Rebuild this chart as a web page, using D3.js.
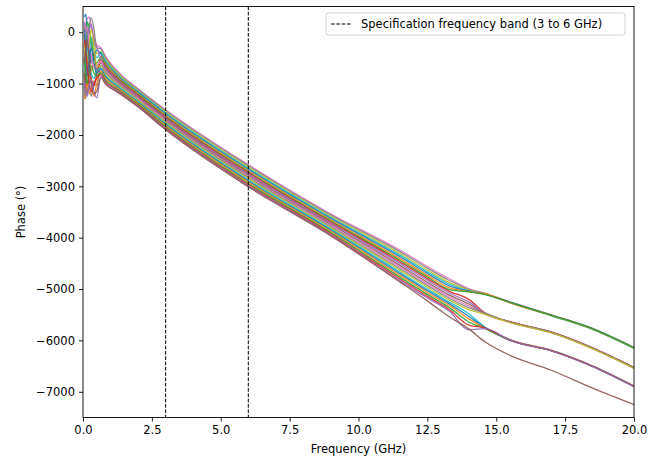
<!DOCTYPE html>
<html>
<head>
<meta charset="utf-8">
<script src="https://cdn.jsdelivr.net/npm/d3@7"></script>
<style>
    body { margin: 0; background: #fff; }
    svg { display: block; font-family: "DejaVu Sans", sans-serif; }
</style>
</head>
<body>
<svg id="chart" width="664" height="457"></svg>
<script>
// frequency points (GHz) shared by every run
var freqs = [0.05, 0.1, 0.15, 0.22, 0.3, 0.4, 0.5, 0.65, 0.8, 1.2, 2, 3, 6, 9, 11.5, 12.5, 13.3, 14, 14.6, 15.5, 17, 18.5, 20];

var runs = [
    [-300, 150, 250, 300, 120, -100, -250, -300, -450, -730, -1100, -1510, -2580, -3540, -4240, -4560, -4800, -4990, -5085, -5250, -5500, -5765, -6135],
    [-900, -500, -200, 100, 280, 50, -300, -330, -478, -751, -1118, -1530, -2600, -3561, -4271, -4592, -4833, -5005, -5092, -5262, -5512, -5778, -6150],
    [100, -250, -600, -400, -350, -150, -420, -380, -511, -776, -1139, -1553, -2627, -3587, -4308, -4630, -4873, -5018, -5100, -5258, -5506, -5772, -6142],
    [-1250, -1000, -800, -500, -100, -350, -500, -400, -538, -797, -1157, -1572, -2649, -3608, -4339, -4662, -4906, -5030, -5096, -5265, -5520, -5785, -6155],
    [300, 350, 50, -300, -600, -450, -350, -420, -566, -818, -1175, -1592, -2670, -3629, -4370, -4694, -4939, -5040, -5104, -5252, -5505, -5768, -6140],
    [-650, -300, -1050, -900, -750, -600, -880, -470, -599, -843, -1197, -1615, -2696, -3655, -4407, -4733, -4978, -5048, -5090, -5268, -5515, -5782, -6148],
    [-50, -400, 200, 100, -200, -500, -600, -480, -626, -864, -1215, -1635, -2718, -3676, -4438, -4765, -5011, -5055, -5108, -5258, -5510, -5775, -6145],
    [-1100, -800, -450, -700, -900, -1050, -800, -540, -654, -885, -1232, -1654, -2739, -3697, -4469, -4797, -5044, -5200, -5465, -5635, -5835, -6145, -6525],
    [200, -100, -350, 0, 150, -200, -300, -520, -681, -906, -1250, -1674, -2761, -3719, -4500, -4829, -5077, -5250, -5475, -5645, -5845, -6155, -6535],
    [-800, -1100, -1200, -750, -500, -400, -750, -600, -714, -932, -1272, -1697, -2786, -3744, -4538, -4867, -5117, -5290, -5482, -5638, -5838, -6148, -6528],
    [-400, 0, 100, -200, -450, -700, -650, -580, -742, -953, -1290, -1717, -2808, -3765, -4569, -4899, -5150, -5330, -5490, -5650, -5850, -6160, -6540],
    [-1000, -1300, -700, -1000, -1250, -950, -1050, -650, -769, -974, -1308, -1736, -2829, -3787, -4600, -4931, -5183, -5360, -5470, -5642, -5842, -6152, -6532],
    [-200, -700, -550, -250, 50, -300, -650, -660, -797, -995, -1326, -1756, -2851, -3808, -4631, -4963, -5216, -5400, -5495, -5655, -5855, -6165, -6545],
    [-700, -450, -300, -600, -800, -900, -750, -700, -830, -1020, -1347, -1779, -2877, -3833, -4668, -5002, -5255, -5480, -5745, -5985, -6190, -6495, -6885],
    [50, -300, -850, -650, -300, -600, -800, -720, -857, -1041, -1365, -1799, -2898, -3855, -4699, -5034, -5288, -5530, -5755, -5995, -6200, -6505, -6895],
    [-1300, -1100, -950, -1200, -1100, -1250, -1000, -760, -885, -1062, -1383, -1818, -2920, -3876, -4730, -5066, -5321, -5580, -5762, -5988, -6192, -6498, -6888],
    [-500, -850, -1000, -800, -650, -800, -850, -790, -918, -1087, -1404, -1842, -2946, -3901, -4767, -5104, -5361, -5640, -5770, -6000, -6205, -6510, -6900],
    [-150, -350, -650, -950, -1150, -1000, -900, -820, -951, -1112, -1426, -1865, -2971, -3927, -4804, -5142, -5401, -5700, -5758, -5992, -6198, -6502, -6892],
    [-950, -1200, -1250, -1050, -950, -1150, -1280, -850, -978, -1133, -1444, -1884, -2993, -3948, -4835, -5174, -5434, -5790, -5770, -5998, -6202, -6508, -6898],
    [-600, -300, -150, -500, -1000, -1200, -1150, -880, -1000, -1150, -1458, -1900, -3010, -3965, -4860, -5230, -5540, -5775, -6030, -6290, -6580, -6930, -7250]
];

// specification band edges (GHz)
var bandEdges = [3, 6];
var bandLabel = 'Specification frequency band (3 to 6 GHz)';

// tick labels
var xTicks = [0, 2.5, 5, 7.5, 10, 12.5, 15, 17.5, 20];
var yTicks = [0, -1000, -2000, -3000, -4000, -5000, -6000, -7000];

// matplotlib default cycle
var palette = ['#1f77b4', '#ff7f0e', '#2ca02c', '#d62728', '#9467bd',
    '#8c564b', '#e377c2', '#7f7f7f', '#bcbd22', '#17becf'];

var margin = {top: 6.5, left: 83, right: 30, bottom: 39.5},
    width = 664 - margin.left - margin.right,
    height = 457 - margin.top - margin.bottom;

var svg = d3.select('#chart');

var x = d3.scaleLinear().domain([0, 20]).range([0, width]);
var y = d3.scaleLinear().domain([-7500, 500]).range([height, 0]);

var plot = svg.append('g')
    .attr('transform', 'translate(' + margin.left + ',' + margin.top + ')');

plot.append('clipPath')
    .attr('id', 'clip')
    .append('rect')
    .attr('width', width)
    .attr('height', height);

var line = d3.line()
    .x(function (d) { return x(d[0]); })
    .y(function (d) { return y(d[1]); })
    .curve(d3.curveMonotoneX);

// one path per run
plot.append('g')
    .attr('clip-path', 'url(#clip)')
    .selectAll('path')
    .data(runs)
    .enter()
    .append('path')
    .attr('fill', 'none')
    .attr('stroke', function (d, i) { return palette[(i + 6) % palette.length]; })
    .attr('stroke-width', 1.3)
    .attr('stroke-opacity', 0.9)
    .attr('d', function (d) {
        return line(d.map(function (v, k) { return [freqs[k], v]; }));
    });

// band edges
plot.selectAll('line.band')
    .data(bandEdges)
    .enter()
    .append('line')
    .attr('class', 'band')
    .attr('x1', function (d) { return x(d); })
    .attr('x2', function (d) { return x(d); })
    .attr('y1', 0)
    .attr('y2', height)
    .attr('stroke', '#000')
    .attr('stroke-width', 1)
    .attr('stroke-dasharray', '3.7,1.6');

// axes
var xAxis = plot.append('g')
    .attr('transform', 'translate(0,' + height + ')')
    .call(d3.axisBottom(x).tickValues(xTicks).tickFormat(d3.format('.1f'))
        .tickSize(4).tickPadding(4));
var yAxis = plot.append('g')
    .call(d3.axisLeft(y).tickValues(yTicks).tickFormat(d3.format('d'))
        .tickSize(4).tickPadding(4));

[xAxis, yAxis].forEach(function (a) {
    a.select('.domain').remove();
    a.selectAll('text')
        .attr('font-family', '"DejaVu Sans", sans-serif')
        .attr('font-size', '11.5px')
        .attr('fill', '#000');
    a.selectAll('line').attr('stroke', '#000').attr('stroke-width', 0.9);
});

// frame
plot.append('rect')
    .attr('width', width)
    .attr('height', height)
    .attr('fill', 'none')
    .attr('stroke', '#000')
    .attr('stroke-width', 0.9);

// axis labels
svg.append('text')
    .attr('x', margin.left + width / 2)
    .attr('y', 453)
    .attr('text-anchor', 'middle')
    .attr('font-size', '11.5px')
    .text('Frequency (GHz)');

svg.append('text')
    .attr('transform', 'translate(25,' + (margin.top + height / 2) + ') rotate(-90)')
    .attr('text-anchor', 'middle')
    .attr('font-size', '11.5px')
    .text('Phase (°)');

// legend
var legend = svg.append('g');
legend.append('rect')
    .attr('x', 326)
    .attr('y', 13)
    .attr('width', 299)
    .attr('height', 22)
    .attr('rx', 2.5)
    .attr('fill', '#fff')
    .attr('fill-opacity', 0.8)
    .attr('stroke', '#ccc')
    .attr('stroke-width', 0.9);
legend.append('line')
    .attr('x1', 331)
    .attr('x2', 352)
    .attr('y1', 24)
    .attr('y2', 24)
    .attr('stroke', '#000')
    .attr('stroke-width', 1)
    .attr('stroke-dasharray', '3.7,1.6');
legend.append('text')
    .attr('x', 361)
    .attr('y', 28)
    .attr('font-size', '11.5px')
    .text(bandLabel);
</script>
</body>
</html>
